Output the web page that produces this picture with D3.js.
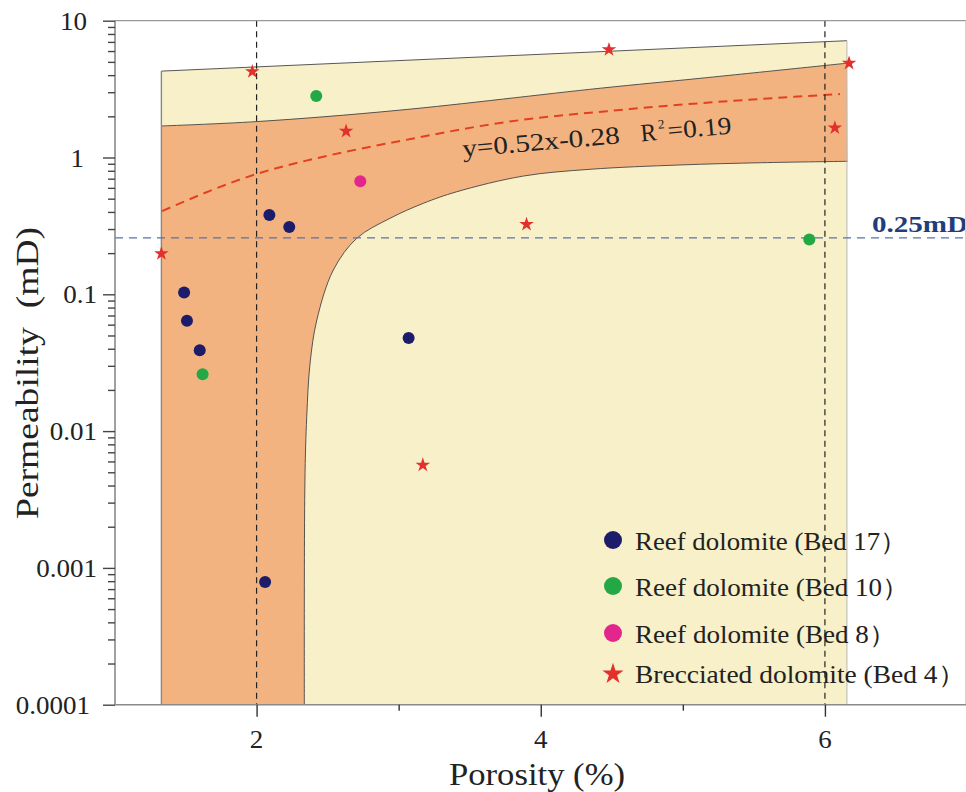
<!DOCTYPE html>
<html><head><meta charset="utf-8">
<script src="https://cdn.jsdelivr.net/npm/d3@7"></script>
<style>
body{margin:0;background:#fff}
svg{display:block}
text{font-family:"Liberation Serif",Tinos,"Times New Roman","Nimbus Roman","Nimbus Roman No9 L",FreeSerif,"Noto Serif","DejaVu Serif",serif;fill:#222}
</style>
</head><body>
<svg id="chart" width="966" height="792"></svg>
<script>
// ---------- data ----------
const bed17Porosity = [2.09, 2.23, 1.49, 1.51, 1.60, 3.07, 2.06];
const bed17Perm     = [0.38, 0.31, 0.103, 0.064, 0.039, 0.048, 0.00079];
const bed10Porosity = [2.42, 1.62, 5.89];
const bed10Perm     = [2.82, 0.026, 0.252];
const bed8Porosity  = [2.73];
const bed8Perm      = [0.67];
const bed4Porosity  = [1.33, 1.97, 2.63, 4.48, 6.17, 6.07, 3.90, 3.17];
const bed4Perm      = [0.20, 4.28, 1.57, 6.2, 4.93, 1.66, 0.327, 0.0057];

// outer (light) zone
const outerX       = [1.33, 6.155];
const outerTopPerm = [4.28, 7.14];
// favourable (orange) zone
const zoneTopX     = [1.33, 2.0, 3.01, 4.42, 5.12, 6.155];
const zoneTopPerm  = [1.70, 1.83, 2.22, 3.21, 3.79, 4.89];
const zoneBotX     = [6.16, 5.555, 4.98, 4.347, 3.878, 3.409, 3.174, 2.939, 2.705, 2.54, 2.424, 2.3765, 2.353, 2.34, 2.336];
const zoneBotPerm  = [0.938, 0.916, 0.882, 0.820, 0.732, 0.562, 0.4627, 0.3594, 0.2566, 0.1505, 0.0649, 0.0314, 0.01275, 0.00418, 0.0001];
// fitted trend
const trendX    = [1.334, 2.0, 2.517, 3.01, 3.714, 4.628, 6.106];
const trendPerm = [0.406, 0.758, 1.04, 1.32, 1.79, 2.26, 2.91];

const cutoffPerm = 0.25;
const refPorosity = [2, 6];
const xMajorTicks = [2, 4, 6];
const xMinorTicks = [3, 5, 7];
const yMajorTicks = [0.0001, 0.001, 0.01, 0.1, 1, 10];
const yTickLabels = ["0.0001", "0.001", "0.01", "0.1", "1", "10"];
const legendLabels = ["Reef dolomite (Bed 17）", "Reef dolomite (Bed 10）", "Reef dolomite (Bed 8）", "Brecciated dolomite (Bed 4）"];

// ---------- setup ----------
const svg = d3.select("#chart");
const x = d3.scaleLinear().domain([1, 7]).range([114.5, 967]);
const y = d3.scaleLog().domain([1e-4, 10]).range([704.7, 20.7]);
const X0 = 115, Y0 = 704.7, YT = 20.7, XR = 966;

const cYellow = "#f7f0c8", cOrange = "#f3b380";
const cNavy = "#1c1c6b", cGreen = "#23a845", cPink = "#e3268b", cRed = "#e2302c";

// Times-like advance widths (em) to keep text widths stable whatever serif is present
const em = ch => ("0123456789".includes(ch) ? 0.5 : ch === "." ? 0.25 : 0.5);
const timesWidth = (s, fs) => s.split("").reduce((a, c) => a + em(c), 0) * fs;

const pts = (xs, ys) => xs.map((v, i) => [x(v), y(ys[i])]);

// yellow zone
const yellowPts = [[x(outerX[0]), y(1e-4)], ...pts(outerX, outerTopPerm), [x(outerX[1]), y(1e-4)]];
svg.append("path").attr("d", "M" + yellowPts.join("L") + "Z").attr("fill", cYellow);

// orange zone
const curve = d3.line().curve(d3.curveCatmullRom.alpha(0.5));
const topPath = curve(pts(zoneTopX, zoneTopPerm));
const botPath = curve(pts(zoneBotX, zoneBotPerm));
const orangeD = "M" + x(zoneTopX[0]) + "," + y(1e-4) + "L" + topPath.slice(1) + "L" + botPath.slice(1) + "Z";
svg.append("path").attr("d", orangeD).attr("fill", cOrange);

// boundaries
svg.append("path").attr("d", d3.line()(pts(outerX, outerTopPerm))).attr("fill", "none").attr("stroke", "#444").attr("stroke-width", 0.9);
svg.append("path").attr("d", topPath).attr("fill", "none").attr("stroke", "#444").attr("stroke-width", 0.9);
svg.append("path").attr("d", botPath).attr("fill", "none").attr("stroke", "#444").attr("stroke-width", 0.9);
svg.append("line").attr("x1", x(outerX[0])).attr("x2", x(outerX[0])).attr("y1", y(outerTopPerm[0])).attr("y2", Y0)
  .attr("stroke", "#888").attr("stroke-width", 1.4);
svg.append("line").attr("x1", x(outerX[1])).attr("x2", x(outerX[1])).attr("y1", y(outerTopPerm[1])).attr("y2", Y0)
  .attr("stroke", "#b8b8b8").attr("stroke-width", 1);

// trend
svg.append("path").attr("d", d3.line().curve(d3.curveMonotoneX)(pts(trendX, trendPerm)))
  .attr("fill", "none").attr("stroke", "#e2401f").attr("stroke-width", 2).attr("stroke-dasharray", "9,6");

// equation
const eq = svg.append("g").attr("transform", "translate(463,157) rotate(-5)").style("font-size", "25px");
eq.append("text").attr("x", 0).attr("y", 0).attr("textLength", 158).attr("lengthAdjust", "spacingAndGlyphs").text("y=0.52x-0.28");
eq.append("text").attr("x", 179).attr("y", 0).attr("textLength", 16).attr("lengthAdjust", "spacingAndGlyphs").text("R");
eq.append("text").attr("x", 197).attr("y", -11).style("font-size", "13px").text("2");
eq.append("text").attr("x", 206).attr("y", 0).attr("textLength", 64).attr("lengthAdjust", "spacingAndGlyphs").text("=0.19");

// legend
const legendY = [540, 586, 633, 673];
const legendColors = [cNavy, cGreen, cPink, cRed];
const legendLen = [272, 274, 261, 330];
legendLabels.forEach((lab, i) => {
  if (i < 3) {
    svg.append("circle").attr("cx", 613).attr("cy", legendY[i]).attr("r", 9).attr("fill", legendColors[i]);
  } else {
    svg.append("path").attr("d", d3.symbol(d3.symbolStar, 140)()).attr("transform", `translate(613,${legendY[i] + 1})`).attr("fill", cRed);
  }
  svg.append("text").attr("x", 635).attr("y", legendY[i] + 10).style("font-size", "25px")
    .attr("textLength", legendLen[i]).attr("lengthAdjust", "spacingAndGlyphs").text(lab);
});

// reference lines
svg.append("line").attr("x1", X0).attr("x2", XR).attr("y1", y(cutoffPerm) - 2).attr("y2", y(cutoffPerm) - 2)
  .attr("stroke", "#5a73a8").attr("stroke-width", 1.4).attr("stroke-dasharray", "8,6");
refPorosity.forEach(v => {
  svg.append("line").attr("x1", x(v)).attr("x2", x(v)).attr("y1", YT).attr("y2", Y0)
    .attr("stroke", "#222").attr("stroke-width", 1.2).attr("stroke-dasharray", "6,4.5");
});
svg.append("text").attr("x", 872).attr("y", 232).style("font-size", "24px").attr("font-weight", "bold")
  .style("fill", "#1f3e7c").attr("textLength", 96).attr("lengthAdjust", "spacingAndGlyphs").text("0.25mD");

// points
const drawCircles = (xs, ys, col) => svg.append("g").selectAll("circle").data(xs).join("circle")
  .attr("cx", (d) => x(d)).attr("cy", (d, i) => y(ys[i])).attr("r", 6).attr("fill", col);
drawCircles(bed17Porosity, bed17Perm, cNavy);
drawCircles(bed10Porosity, bed10Perm, cGreen);
drawCircles(bed8Porosity, bed8Perm, cPink);
svg.append("g").selectAll("path").data(bed4Porosity).join("path")
  .attr("d", d3.symbol(d3.symbolStar, 66)())
  .attr("transform", (d, i) => `translate(${x(d)},${y(bed4Perm[i]) + 0.5})`).attr("fill", cRed);

// frame
svg.append("line").attr("x1", X0).attr("x2", XR).attr("y1", YT).attr("y2", YT).attr("stroke", "#999").attr("stroke-width", 1.2);
svg.append("line").attr("x1", XR - 0.5).attr("x2", XR - 0.5).attr("y1", YT).attr("y2", Y0).attr("stroke", "#ecc8cc").attr("stroke-width", 1);
svg.append("line").attr("x1", X0).attr("x2", X0).attr("y1", YT).attr("y2", Y0).attr("stroke", "#8a8a8a").attr("stroke-width", 1.6);
svg.append("line").attr("x1", X0).attr("x2", XR).attr("y1", Y0).attr("y2", Y0).attr("stroke", "#8a8a8a").attr("stroke-width", 1.6);

// y axis
const yMinor = [];
for (let k = -4; k < 1; k++) for (let m = 2; m <= 9; m++) yMinor.push(m * Math.pow(10, k));
const gy = svg.append("g").attr("transform", `translate(${X0},0)`);
gy.call(d3.axisLeft(y).tickValues(yMinor).tickSize(7).tickFormat(""));
gy.select(".domain").remove();
const gy2 = svg.append("g").attr("transform", `translate(${X0},0)`);
gy2.call(d3.axisLeft(y).tickValues(yMajorTicks).tickSize(12).tickFormat(""));
gy2.select(".domain").remove();
[gy, gy2].forEach(g => g.selectAll("line").attr("stroke", "#444").attr("stroke-width", 1.4));
const yNudge = { "10": -10, "1": -13, "0.0001": -7 };
yMajorTicks.forEach((v, i) => {
  const lab = yTickLabels[i];
  svg.append("text").attr("x", 97 + (yNudge[lab] || 0)).attr("y", y(v) + 9).attr("text-anchor", "end")
    .style("font-size", "25px").attr("textLength", timesWidth(lab, 27)).attr("lengthAdjust", "spacingAndGlyphs").text(lab);
});

// x axis
const gx = svg.append("g").attr("transform", `translate(0,${Y0})`);
gx.call(d3.axisBottom(x).tickValues(xMinorTicks).tickSize(6).tickFormat(""));
gx.select(".domain").remove();
const gx2 = svg.append("g").attr("transform", `translate(0,${Y0})`);
gx2.call(d3.axisBottom(x).tickValues(xMajorTicks).tickSize(12).tickFormat(""));
gx2.select(".domain").remove();
[gx, gx2].forEach(g => g.selectAll("line").attr("stroke", "#333").attr("stroke-width", 1.4));
xMajorTicks.forEach(v => {
  const lab = d3.format("d")(v);
  svg.append("text").attr("x", x(v)).attr("y", 748).attr("text-anchor", "middle")
    .style("font-size", "25px").attr("textLength", timesWidth(lab, 27)).attr("lengthAdjust", "spacingAndGlyphs").text(lab);
});

// axis titles
svg.append("text").attr("x", 537).attr("y", 785).attr("text-anchor", "middle").style("font-size", "32px")
  .attr("textLength", 176).attr("lengthAdjust", "spacingAndGlyphs").text("Porosity (%)");
svg.append("text").attr("transform", "translate(38,373) rotate(-90)").attr("text-anchor", "middle")
  .style("font-size", "32px").attr("textLength", 292).attr("lengthAdjust", "spacingAndGlyphs")
  .text("Permeability\u2002(mD)");
</script>
</body></html>
